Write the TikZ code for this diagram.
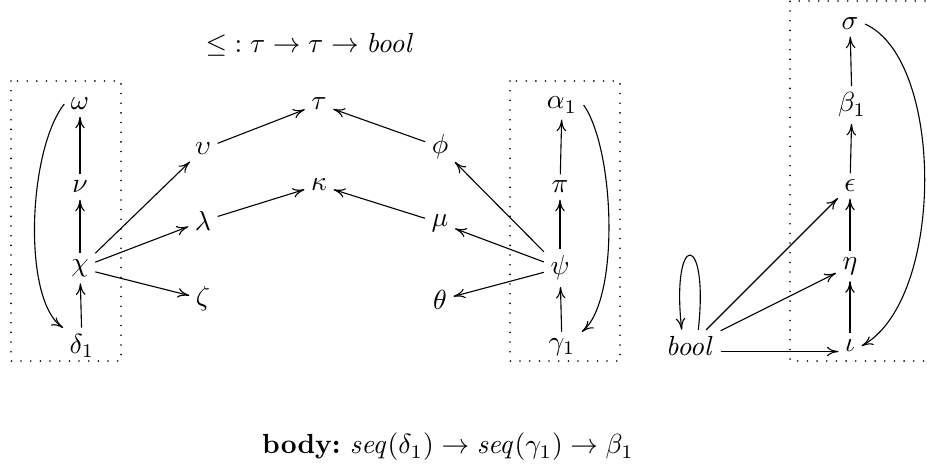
\documentclass[tikz,border=0pt]{standalone}
\usetikzlibrary{arrows.meta}
\begin{document}
\begin{tikzpicture}[x=0.362pt,y=-0.362pt,
  >={Computer Modern Rightarrow[length=4.2pt,width=3.5pt]},
  every node/.style={inner sep=2.2pt},
  dotbox/.style={line width=0.65pt, dash pattern=on 0pt off 3.5pt, line cap=round},
  conn/.style={->, line width=0.4pt}]
\useasboundingbox (0,0) rectangle (927,474);
% boxes
\draw[dotbox] (11,81) rectangle (121,361);
\draw[dotbox] (510,81) rectangle (620,361);
\draw[dotbox] (925,1) -- (790,1) -- (790,361) -- (925,361);
% titles
\node (title) at (310,45) {${\leq} : \tau \rightarrow \tau \rightarrow \mathit{bool}$};
\node (body) at (448,447) {\textbf{body:}~$\mathit{seq}(\delta_1)\rightarrow\mathit{seq}(\gamma_1)\rightarrow\beta_1$};
% left box
\node (omega) at (80,104) {$\omega$};
\node (nu) at (80,187) {$\nu$};
\node (chi) at (80,268) {$\chi$};
\node (delta) at (82,346) {$\delta_1$};
% middle
\node (ups) at (203,149) {$\upsilon$};
\node (tau) at (319,104) {$\tau$};
\node (lam) at (203,221) {$\lambda$};
\node (kappa) at (319,185) {$\kappa$};
\node (zeta) at (203,299) {$\zeta$};
\node (phi) at (440,147) {$\phi$};
\node (mu) at (440,223) {$\mu$};
\node (theta) at (440,300) {$\theta$};
% second box
\node (alpha) at (562,105) {$\alpha_1$};
\node (pi) at (560,187) {$\pi$};
\node (psi) at (560,268) {$\psi$};
\node (gamma) at (562,347) {$\gamma_1$};
% right
\node (sigma) at (850,24) {$\sigma$};
\node (beta) at (852,105) {$\beta_1$};
\node (eps) at (850,186) {$\epsilon$};
\node (eta) at (850,266) {$\eta$};
\node (iota) at (850,346) {$\iota$};
\node (bool) at (690,346) {$\mathit{bool}$};
% edges
\draw[conn] (nu) -- (omega);
\draw[conn] (chi) -- (nu);
\draw[conn] (delta) -- (chi);
\draw[conn] (chi) -- (ups);
\draw[conn] (chi) -- (lam);
\draw[conn] (chi) -- (zeta);
\draw[conn] (ups) -- (tau);
\draw[conn] (lam) -- (kappa);
\draw[conn] (phi) -- (tau);
\draw[conn] (mu) -- (kappa);
\draw[conn] (psi) -- (phi);
\draw[conn] (psi) -- (mu);
\draw[conn] (psi) -- (theta);
\draw[conn] (pi) -- (alpha);
\draw[conn] (psi) -- (pi);
\draw[conn] (gamma) -- (psi);
\draw[conn] (beta) -- (sigma);
\draw[conn] (eps) -- (beta);
\draw[conn] (eta) -- (eps);
\draw[conn] (iota) -- (eta);
\draw[conn] (bool) -- (eps);
\draw[conn] (bool) -- (eta);
\draw[conn] ([yshift=-2pt]bool.east) -- ([yshift=-2pt]iota.west);
% curves
\draw[conn] (omega.west) .. controls (28,150) and (22,300) .. (delta.north west);
\draw[conn] (alpha.east) .. controls (615,150) and (620,300) .. (gamma.north east);
\draw[conn] (sigma.east) .. controls (945,60) and (945,300) .. (iota.east);
\draw[conn] ([xshift=3pt]bool.north) .. controls +(4pt,36pt) and +(-4pt,36pt) .. ([xshift=-3pt]bool.north);
\end{tikzpicture}
\end{document}
